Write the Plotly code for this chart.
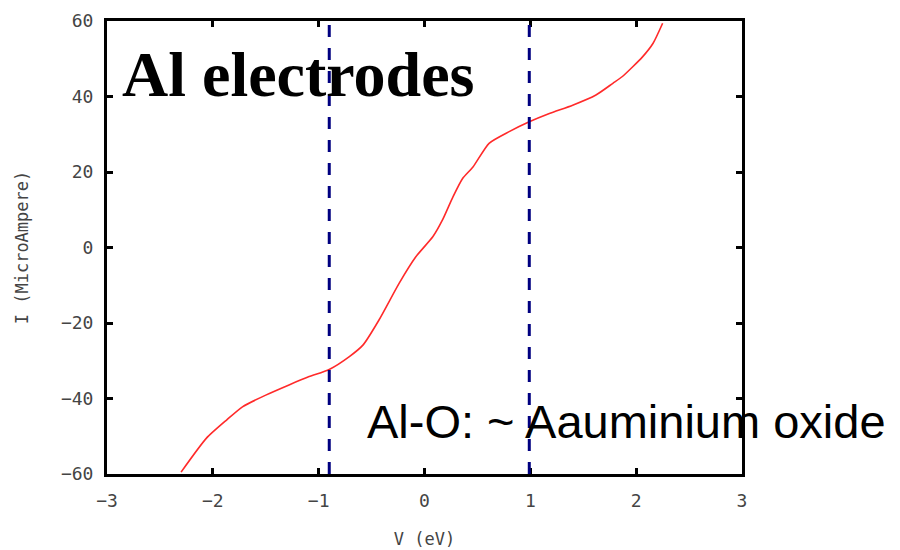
import plotly.graph_objects as go

# I-V data
voltage = [-2.30, -2.06, -1.87, -1.72, -1.50, -1.28, -1.09, -0.90, -0.71, -0.58,
           -0.43, -0.24, -0.08, 0.08, 0.17, 0.27, 0.36, 0.46, 0.61, 0.80,
           0.99, 1.18, 1.40, 1.62, 1.78, 1.87, 2.06, 2.16, 2.25]
current = [-59.5, -50.5, -45.7, -42.2, -39.1, -36.4, -34.2, -32.3, -28.9, -25.8,
           -19.2, -9.5, -2.4, 2.9, 7.3, 13.5, 18.3, 21.4, 27.6, 30.7,
           33.3, 35.5, 37.7, 40.4, 43.5, 45.3, 50.5, 54.1, 59.4]
threshold_v = [-0.9, 0.99]
x_ticks = [-3, -2, -1, 0, 1, 2, 3]
y_ticks = [-60, -40, -20, 0, 20, 40, 60]

fig = go.Figure()
fig.add_trace(go.Scatter(x=voltage, y=current, mode="lines",
                         line=dict(color="#ff2a2a", width=1.6, shape="spline", smoothing=0.6),
                         showlegend=False, hoverinfo="skip"))

for v in threshold_v:
    fig.add_shape(type="line", x0=v, x1=v, y0=-60, y1=60, xref="x", yref="y",
                  line=dict(color="#000080", width=3, dash="12px,11px"))

tickfont = dict(family="DejaVu Sans Mono", size=18, color="#444444")
axis_common = dict(showline=True, linecolor="black", linewidth=3, mirror="ticks",
                   ticks="inside", ticklen=6, tickwidth=3, tickcolor="black",
                   showgrid=False, zeroline=False, tickfont=tickfont, automargin=False)

fig.update_xaxes(range=[-3, 3], tickvals=x_ticks, ticktext=[str(t).replace("-", "−") for t in x_ticks],
                 ticklabelstandoff=8,
                 title=dict(text="V (eV)", font=dict(family="DejaVu Sans Mono", size=17, color="#444444"),
                            standoff=24),
                 **axis_common)
fig.update_yaxes(range=[-60, 60], tickvals=y_ticks, ticktext=[str(t).replace("-", "−") for t in y_ticks],
                 ticklabelstandoff=7,
                 title=dict(text="I (MicroAmpere)", font=dict(family="DejaVu Sans Mono", size=17, color="#444444"),
                            standoff=28),
                 **axis_common)

fig.add_annotation(text="<b>Al electrodes</b>", xref="paper", yref="paper",
                   x=0.021, y=0.882, xanchor="left", yanchor="middle", showarrow=False,
                   font=dict(family="Liberation Serif", size=64, color="black"))
fig.add_annotation(text="Al-O: ~ Aauminium oxide", xref="paper", yref="paper",
                   x=0.406, y=0.116, xanchor="left", yanchor="middle", showarrow=False,
                   font=dict(family="Liberation Sans", size=47, color="black"))

fig.update_layout(width=900, height=550, paper_bgcolor="white", plot_bgcolor="white",
                  margin=dict(l=99, r=166, t=13, b=84), showlegend=False)

fig.write_html("out.html")
